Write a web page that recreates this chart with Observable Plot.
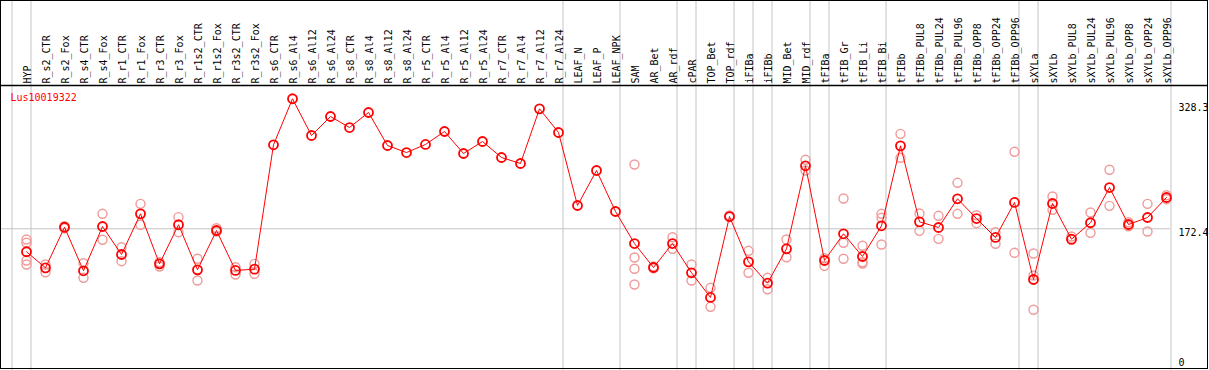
<!DOCTYPE html>
<html>
<head>
<meta charset="utf-8">
<script src="https://cdn.jsdelivr.net/npm/d3@7"></script>
<script src="https://cdn.jsdelivr.net/npm/@observablehq/plot@0.6"></script>
<style>
  html, body { margin: 0; padding: 0; background: #fff; }
  #chart svg { display: block; }
</style>
</head>
<body>
<div id="chart"></div>
<script>
const geneId = "Lus10019322";

const columns = ["HYP","R_s2_CTR","R_s2_Fox","R_s4_CTR","R_s4_Fox","R_r1_CTR","R_r1_Fox","R_r3_CTR","R_r3_Fox",
  "R_r1s2_CTR","R_r1s2_Fox","R_r3s2_CTR","R_r3s2_Fox","R_s6_CTR","R_s6_Al4","R_s6_Al12","R_s6_Al24",
  "R_s8_CTR","R_s8_Al4","R_s8_Al12","R_s8_Al24","R_r5_CTR","R_r5_Al4","R_r5_Al12","R_r5_Al24",
  "R_r7_CTR","R_r7_Al4","R_r7_Al12","R_r7_Al24","LEAF_N","LEAF_P","LEAF_NPK","SAM","AR_Bet","AR_rdf",
  "cPAR","TOP_Bet","TOP_rdf","iFIBa","iFIBb","MID_Bet","MID_rdf","tFIBa","tFIB_Gr","tFIB_Li","tFIB_Bi",
  "tFIBb","tFIBb_PUL8","tFIBb_PUL24","tFIBb_PUL96","tFIBb_OPP8","tFIBb_OPP24","tFIBb_OPP96",
  "sXYLa","sXYLb","sXYLb_PUL8","sXYLb_PUL24","sXYLb_PUL96","sXYLb_OPP8","sXYLb_OPP24","sXYLb_OPP96"];

const means = [143.6,123.5,174.3,119.8,175.2,140.2,191.1,128.5,177.4,
  121.0,170.2,120.2,121.8,277.5,335.1,289.1,312.9,
  299.1,317.9,276.6,267.8,277.9,294.1,266.6,281.6,
  261.6,254.1,322.5,292.9,201.5,245.3,194.0,153.9,123.9,153.9,
  117.3,86.4,187.7,131.0,104.3,147.3,251.2,132.7,166.1,137.7,176.1,
  276.2,181.1,174.0,209.9,185.2,161.5,205.3,
  108.9,204.0,159.3,179.9,224.0,177.7,186.5,211.5];

const replicates = [
  [159.0,154.8,132.7,127.7],[127.7,118.0],[175.6,173.1],[129.3,111.0],[191.1,158.6],[149.3,131.8],
  [203.6,177.4],[130.5,125.2],[186.9,168.1],[134.8,107.6],[173.1,169.0],[124.3,115.1],[128.5,116.0],
  [],[],[],[],[],[],[],[],[],[],[],[],[],[],[],[],[],[],[],
  [252.8,136.4,122.3,102.6],[125.2,123.0],[161.8,147.3],[127.7,107.6],[98.5,74.7],[189.0,186.9],
  [144.8,117.3],[111.0,96.7],[159.0,136.8],[258.7,245.3],[135.5,126.0],[210.3,154.8,134.8],
  [151.1,130.5,128.9],[191.1,186.1,152.7],
  [291.2,261.2],[191.5,169.8],[188.6,159.8],[229.9,191.1],[189.4,179.4],[168.1,153.6],[268.7,142.3],
  [141.4,113.9,71.0],[212.8,196.1],[162.7,158.6],[192.7,167.3],[246.2,201.1],[180.6,175.6],[203.6,169.0],[214.4,209.4]
];

const yTicks = [172.4, 328.3];
const yZeroTick = [0];
const groupEnds = ["HYP","R_r7_Al24","LEAF_NPK","AR_rdf","cPAR","TOP_rdf","iFIBa","iFIBb","MID_rdf",
  "tFIBa","tFIB_Bi","tFIBb_OPP96","sXYLa","sXYLb_OPP96"];
const groupStarts = ["HYP"];

const meanData = columns.map((c, i) => ({col: c, value: means[i]}));
const repData = columns.flatMap((c, i) => replicates[i].map(v => ({col: c, value: v})));

const RED = "#ff0000";
const PINK = "#f09a9a";
const GRID = "#c4c4c4";

const chart = Plot.plot({
  width: 1209,
  height: 370,
  marginLeft: 0,
  marginRight: 39,
  marginTop: 0,
  marginBottom: 0,
  style: {fontFamily: "'DejaVu Sans Mono', monospace", fontSize: "10px", background: "#fff", color: "#000"},
  x: {type: "point", domain: columns, range: [26, 1166], padding: 0, axis: null},
  y: {domain: [0, 328.3], range: [366, 103.7], axis: null},
  marks: [
    Plot.ruleX(groupEnds, {x: d => d, dx: 4.5, stroke: GRID}),
    Plot.ruleX(groupStarts, {x: d => d, dx: -14.5, stroke: GRID}),
    Plot.ruleY([172.4], {stroke: GRID}),
    Plot.text(columns, {x: d => d, frameAnchor: "top", dx: -2.5, dy: 83, rotate: -90, textAnchor: "start", fill: "#000"}),
    Plot.axisY(yTicks, {anchor: "right", label: null, tickSize: 0, tickPadding: 8, dy: 4, tickFormat: d => d.toFixed(1), fill: "#000"}),
    Plot.axisY(yZeroTick, {anchor: "right", label: null, tickSize: 0, tickPadding: 8, dy: -4, tickFormat: d => String(d), fill: "#000"}),
    Plot.dot(repData, {x: "col", y: "value", r: 4.5, stroke: PINK, strokeWidth: 1.4, fill: "none"}),
    Plot.line(meanData, {x: "col", y: "value", stroke: RED, strokeWidth: 1}),
    Plot.dot(meanData, {x: "col", y: "value", r: 4.5, stroke: RED, strokeWidth: 1.8, fill: "none"}),
    Plot.text([geneId], {frameAnchor: "top-left", dx: 10, dy: 97, fill: RED, fontSize: 10, lineAnchor: "middle", textAnchor: "start"})
  ]
});

const svg = d3.select(chart);
svg.append("rect").attr("x", 0.5).attr("y", 0.5).attr("width", 1207).attr("height", 368)
  .attr("fill", "none").attr("stroke", "#000").attr("stroke-width", 1);
svg.append("line").attr("x1", 0).attr("x2", 1208).attr("y1", 85.5).attr("y2", 85.5)
  .attr("stroke", "#000").attr("stroke-width", 1.5);

document.getElementById("chart").appendChild(chart);
</script>
</body>
</html>
